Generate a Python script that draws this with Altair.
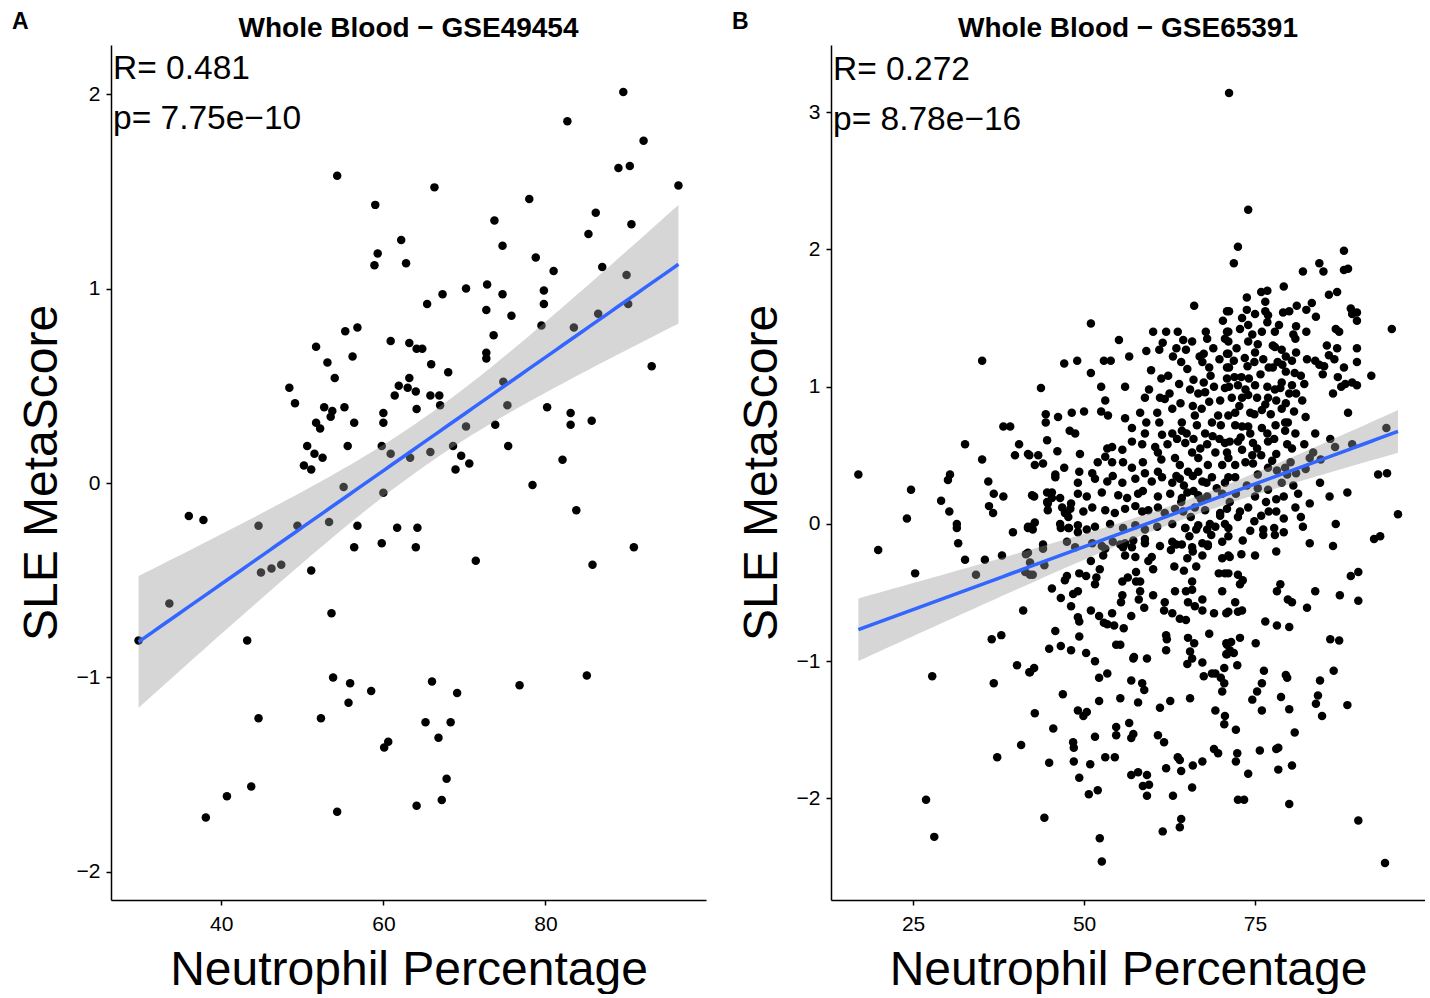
import altair as alt
import numpy as np
import pandas as pd

FONT = "Liberation Sans"

# ---------------- Panel A: GSE49454 ----------------
a_x = [89.6, 82.7, 92.1, 89.0, 90.4, 96.4, 54.3, 66.3, 78.0, 59.0,
       62.2, 59.3, 58.9, 62.8, 86.2, 73.7, 90.6, 85.3, 74.7, 78.8,
       81.0, 87.0, 90.0, 67.3, 65.4, 70.2, 72.8, 74.7, 72.7, 75.8,
       79.8, 79.8, 79.5, 83.5, 86.5, 90.2, 55.3, 56.8, 60.9, 63.2,
       51.7, 56.2, 53.1, 54.0, 63.2, 61.9, 63.0, 61.4, 48.4, 49.1,
       52.7, 53.7, 53.5, 55.2, 51.7, 52.2, 56.4, 60.0, 60.0, 50.6,
       51.5, 52.5, 55.6, 50.2, 51.1, 59.8, 60.9, 63.3, 55.1, 60.0,
       36.0, 37.8, 44.6, 49.4, 53.3, 56.8, 61.7, 56.4, 59.8, 64.0,
       44.9, 46.2, 47.4, 51.1, 33.6, 53.6, 64.1, 64.8, 73.6, 72.7,
       72.7, 65.9, 68.0, 64.0, 65.8, 66.9, 67.0, 64.1, 74.8, 75.3,
       93.1, 70.2, 73.8, 80.2, 83.1, 83.1, 85.7, 65.8, 68.6, 69.6,
       70.6, 68.9, 75.4, 82.1, 78.4, 83.8, 64.2, 71.4, 85.8, 90.9,
       29.8, 43.2, 53.8, 55.9, 58.5, 55.7, 44.6, 52.3, 60.6, 60.1,
       43.7, 40.7, 38.1, 54.3, 66.0, 69.1, 76.8, 85.1, 65.2, 68.3,
       66.8, 67.8, 67.2, 64.1]
a_y = [2.01, 1.86, 1.76, 1.62, 1.63, 1.53, 1.58, 1.52, 1.46, 1.43,
       1.25, 1.18, 1.12, 1.13, 1.39, 1.35, 1.33, 1.28, 1.22, 1.16,
       1.09, 1.11, 1.07, 0.97, 0.92, 1.00, 1.02, 0.97, 0.89, 0.86,
       0.99, 0.92, 0.81, 0.80, 0.87, 0.92, 0.78, 0.80, 0.73, 0.72,
       0.70, 0.65, 0.62, 0.54, 0.54, 0.50, 0.49, 0.45, 0.49, 0.41,
       0.39, 0.37, 0.34, 0.39, 0.31, 0.28, 0.31, 0.36, 0.31, 0.19,
       0.15, 0.13, 0.19, 0.09, 0.07, 0.19, 0.15, 0.13, -0.02, -0.05,
       -0.17, -0.19, -0.22, -0.22, -0.20, -0.22, -0.23, -0.33, -0.31, -0.33,
       -0.46, -0.44, -0.42, -0.45, -0.62, -0.67, 0.69, 0.69, 0.76, 0.67,
       0.64, 0.61, 0.57, 0.47, 0.45, 0.45, 0.40, 0.38, 0.52, 0.40,
       0.60, 0.29, 0.30, 0.39, 0.36, 0.30, 0.32, 0.16, 0.19, 0.14,
       0.10, 0.07, 0.19, 0.12, -0.01, -0.14, -0.23, -0.40, -0.42, -0.33,
       -0.81, -0.81, -1.00, -1.03, -1.07, -1.13, -1.21, -1.21, -1.33, -1.36,
       -1.56, -1.61, -1.72, -1.69, -1.02, -1.08, -1.04, -0.99, -1.23, -1.23,
       -1.31, -1.52, -1.63, -1.66]

# ---------------- Panel B: GSE65391 ----------------
# left-side points
b1_x = [35.1, 38.2, 39.2, 32.6, 40.5, 39.9, 41.8, 35.1, 17.0, 30.4,
        30.1, 24.7, 36.0, 36.8, 38.2, 29.1, 36.1, 36.7, 30.3, 24.1,
        31.4, 31.4, 39.6, 41.8, 19.9, 31.6, 32.6, 35.5, 38.0, 41.5,
        25.3, 34.2, 42.1, 41.1, 36.5, 37.9, 40.2, 42.0, 27.8, 36.8,
        40.8, 37.3, 26.9, 28.1]
b1_y = [1.19, 0.71, 0.71, 0.58, 0.58, 0.50, 0.51, 0.47, 0.36, 0.36,
        0.32, 0.25, 0.31, 0.22, 0.20, 0.17, 0.13, 0.08, 0.09, 0.04,
        0.00, -0.03, -0.06, -0.03, -0.19, -0.14, -0.26, -0.26, -0.23, -0.22,
        -0.36, -0.37, -0.37, -0.63, -0.84, -0.81, -1.03, -1.08, -1.11, -1.16,
        -1.61, -1.70, -2.01, -2.28]
# lower-right points
b2_x = [88.5, 95.9, 92.4, 93.3, 80.6, 83.0, 81.7, 86.8, 83.0, 86.4,
        78.1, 79.2, 75.9, 79.2, 78.1, 77.0, 73.2, 75.0, 78.1, 76.2,
        76.2, 77.8, 77.9, 79.2, 89.0, 90.1, 87.4, 90.1, 83.8, 78.7,
        78.2, 79.8, 80.4, 82.6, 76.5, 78.2, 80.0, 86.0, 87.3, 75.1,
        72.8, 71.5, 71.9, 72.4, 76.3, 79.5, 79.7, 86.5, 84.5, 76.0,
        75.3, 74.6, 78.8, 84.2, 83.9, 88.5, 76.0, 80.0, 84.8, 72.2,
        80.8, 75.7, 78.1, 78.4, 72.4, 72.2, 74.0, 78.4, 80.4, 72.5,
        73.4, 80.0, 90.1, 94.0]
b2_y = [0.23, 0.07, -0.11, -0.09, 0.28, 0.15, 0.05, 0.00, -0.14, -0.16,
        0.18, 0.20, 0.06, 0.04, 0.09, 0.09, -0.12, -0.23, -0.20, -0.04,
        -0.08, -0.03, -0.08, -0.06, -0.38, -0.35, -0.52, -0.56, -0.49, -0.44,
        -0.49, -0.55, -0.57, -0.61, -0.71, -0.74, -0.75, -0.84, -0.85, -0.87,
        -0.83, -0.86, -0.94, -1.03, -1.07, -1.10, -1.12, -1.07, -1.14, -1.16,
        -1.22, -1.28, -1.26, -1.25, -1.31, -1.32, -1.36, -1.35, -1.40, -1.50,
        -1.52, -1.65, -1.64, -1.63, -1.67, -1.73, -1.82, -1.79, -1.76, -2.01,
        -2.01, -2.04, -2.16, -2.47]
# lower-middle points
b3_x = [44.9, 45.8, 46.6, 48.1, 49.3, 50.3, 51.6, 42.1, 42.7, 46.9,
        52.2, 53.4, 52.2, 49.1, 49.9, 50.4, 42.8, 45.5, 48.4, 48.5,
        51.6, 44.9, 48.5, 50.9, 49.3, 53.1, 54.5, 50.7, 52.0, 44.2,
        52.3, 52.6, 54.7, 54.7, 56.6, 56.9, 57.2, 55.3, 57.9, 56.9,
        58.5, 58.8, 57.2, 57.3, 59.2, 61.1, 62.6, 65.5, 60.8, 61.7,
        56.9, 57.9, 59.2, 58.6, 59.5, 59.2, 62.0, 63.7, 64.0, 64.2,
        65.9, 67.3, 65.8, 63.0, 64.2, 64.0, 61.5, 69.0, 69.6, 69.2,
        70.6, 70.5, 65.2, 66.1, 65.5, 65.8, 65.1, 67.3, 68.3, 67.5,
        68.7, 69.2, 70.5, 70.0, 70.5, 70.2, 70.8, 70.8, 62.0, 62.1,
        62.0, 54.7, 55.3, 55.8, 56.9, 58.8, 54.4, 53.4, 54.1, 52.2,
        51.0, 49.1, 49.3, 52.9, 48.1, 46.6, 45.3, 47.2, 47.5, 48.4,
        49.1, 51.6, 51.8, 55.6, 56.4, 57.6, 58.2, 58.2, 58.0, 60.1,
        55.6, 55.4, 61.8, 61.7, 62.9, 64.0, 64.9, 63.3, 64.9, 65.8,
        65.8, 65.2, 66.2, 67.3, 67.3, 69.0, 70.2, 70.8, 44.0, 44.2,
        42.5, 49.3, 50.3, 51.0, 52.3, 52.8, 53.1, 56.0, 57.5, 57.6,
        59.4, 59.9, 60.1, 63.2, 64.6, 65.1, 66.4, 67.3, 62.7, 63.5,
        65.4, 56.0, 57.2, 55.7, 58.9, 64.8, 66.4, 68.1, 69.7, 70.6,
        70.2, 42.3, 42.8, 42.7, 44.6, 44.7, 45.3, 46.5, 48.1, 47.2,
        47.7, 46.6, 47.8, 49.1, 41.8, 42.1, 41.4]
b3_y = [-0.91, -0.78, -0.89, -0.92, -0.82, -0.94, -1.00, -1.08, -1.05, -1.24,
        -1.12, -1.09, -1.29, -1.36, -1.40, -1.37, -1.38, -1.49, -1.59, -1.63,
        -1.55, -1.74, -1.73, -1.75, -1.85, -1.70, -1.70, -1.97, -1.94, -2.14,
        -2.29, -2.46, -1.48, -1.54, -1.45, -1.56, -1.53, -1.27, -1.30, -1.14,
        -1.16, -1.21, -0.98, -0.97, -0.98, -1.34, -1.29, -1.27, -1.54, -1.59,
        -1.83, -1.81, -1.83, -1.91, -1.90, -1.98, -1.78, -1.70, -1.72, -1.80,
        -1.76, -1.73, -1.92, -1.98, -2.15, -2.21, -2.24, -1.64, -1.67, -1.36,
        -1.40, -1.46, -0.83, -0.87, -0.93, -0.98, -1.02, -1.01, -0.80, -1.11,
        -1.09, -1.09, -1.05, -1.12, -1.16, -1.22, -0.87, -0.95, -0.81, -0.84,
        -0.92, -0.88, -0.88, -0.76, -0.67, -0.61, -0.74, -0.73, -0.65, -0.67,
        -0.63, -0.68, -0.71, -0.72, -0.60, -0.54, -0.47, -0.41, -0.38, -0.51,
        -0.49, -0.44, -0.39, -0.42, -0.39, -0.42, -0.42, -0.49, -0.55, -0.52,
        -0.52, -0.57, -0.57, -0.63, -0.65, -0.69, -0.70, -0.49, -0.49, -0.48,
        -0.42, -0.57, -0.60, -0.63, -0.55, -0.65, -0.49, -0.65, -0.18, -0.30,
        -0.37, -0.36, -0.38, -0.27, -0.33, -0.23, -0.18, -0.23, -0.24, -0.35,
        -0.27, -0.24, -0.33, -0.31, -0.34, -0.25, -0.31, -0.23, -0.19, -0.15,
        -0.09, -0.14, -0.12, -0.17, -0.11, -0.03, -0.04, -0.15, -0.36, -0.36,
        -0.25, -0.02, 0.01, 0.20, 0.16, 0.15, 0.23, 0.19, 0.15, 0.08,
        0.05, -0.03, -0.03, -0.06, -0.21, -0.28, -0.35]
# dense core rows
b4_x = [45.8, 49.1, 51.6, 53.4, 54.2, 55.6, 57.5, 59.9, 61.4, 62.9, 64.0, 65.9, 67.3, 68.7, 70.6,
        42.4, 44.6, 45.3, 49.1, 50.4, 52.6, 55.0, 56.3, 57.9, 58.6, 60.8, 62.6, 64.3, 65.1, 66.7, 68.0, 70.2,
        44.7, 46.8, 47.5, 48.0, 49.9, 51.2, 53.1, 54.5, 56.0, 57.5, 58.5, 59.4, 60.8, 61.8, 63.3, 64.5, 66.2, 67.7, 69.9, 70.9,
        41.8, 42.5, 46.5, 47.7, 49.1, 50.4, 51.6, 53.8, 55.7, 57.5, 58.9, 60.7, 62.9, 64.8, 66.7, 68.0, 69.2, 70.6,
        44.0, 47.5, 48.7, 51.2, 52.6, 54.2, 55.3, 57.0, 58.9, 61.1, 62.9, 64.3, 65.8, 67.3, 68.1, 70.2]
b4_y = [0.34, 0.30, 0.33, 0.31, 0.35, 0.30, 0.33, 0.31, 0.34, 0.30, 0.33, 0.35, 0.31, 0.34, 0.30,
        0.21, 0.23, 0.19, 0.22, 0.20, 0.23, 0.21, 0.19, 0.22, 0.24, 0.20, 0.22, 0.19, 0.23, 0.21, 0.20, 0.22,
        0.10, 0.12, 0.08, 0.11, 0.09, 0.12, 0.10, 0.08, 0.11, 0.13, 0.09, 0.10, 0.12, 0.08, 0.11, 0.09, 0.12, 0.10, 0.08, 0.11,
        -0.02, -0.04, 0.00, -0.03, -0.01, -0.04, -0.02, 0.00, -0.03, -0.01, -0.04, -0.02, 0.00, -0.03, -0.01, -0.04, -0.02, 0.00,
        -0.15, -0.13, -0.17, -0.14, -0.16, -0.13, -0.15, -0.17, -0.14, -0.16, -0.13, -0.15, -0.17, -0.14, -0.16, -0.13]
# upper-middle points
b5_x = [71.2, 66.1, 51.0, 70.9, 70.3, 55.1, 60.1, 62.0, 63.7, 64.5,
        67.8, 68.0, 70.9, 70.6, 47.1, 49.0, 52.9, 53.9, 56.6, 51.0,
        59.1, 61.0, 63.5, 64.9, 59.8, 61.3, 65.1, 67.5, 67.3, 68.3,
        70.9, 70.9, 43.7, 52.5, 56.0, 53.1, 59.5, 58.9, 61.1, 61.8,
        65.5, 67.5, 69.0, 66.7, 67.7, 70.9, 70.6, 44.4, 44.4, 46.2,
        48.2, 50.0, 52.5, 53.5, 44.6, 47.9, 48.7, 56.0, 57.0, 58.2,
        60.7, 61.0, 59.1, 58.9, 62.9, 64.3, 64.3, 66.2, 66.5, 67.7,
        68.7, 69.6, 46.1, 42.0, 43.3, 44.0, 42.8, 47.1, 45.8, 49.4,
        49.3, 51.2, 52.0, 53.4, 54.1, 53.1, 54.1, 55.6, 57.0, 55.7,
        57.0, 58.5, 58.6, 60.4, 60.8, 61.3, 58.9, 60.8, 61.4, 62.9,
        63.3, 64.0, 64.8, 65.8, 66.7, 65.2, 66.7, 68.0, 69.2, 68.1,
        70.2, 70.6, 70.9]
b5_y = [3.14, 1.59, 1.46, 1.55, 1.48, 1.34, 1.40, 1.40, 1.40, 1.34,
        1.40, 1.35, 1.40, 1.35, 1.17, 1.19, 1.19, 1.19, 1.22, 1.10,
        1.26, 1.27, 1.28, 1.27, 1.12, 1.06, 1.13, 1.24, 1.18, 1.14,
        1.24, 1.14, 0.99, 1.00, 1.00, 0.90, 0.98, 0.92, 0.92, 0.91,
        0.98, 1.03, 1.00, 0.95, 0.96, 1.06, 0.99, 0.80, 0.74, 0.78,
        0.81, 0.82, 0.82, 0.79, 0.61, 0.68, 0.66, 0.77, 0.70, 0.81,
        0.81, 0.74, 0.74, 0.66, 0.84, 0.74, 0.68, 0.79, 0.72, 0.66,
        0.74, 0.79, 0.53, 0.50, 0.50, 0.44, 0.43, 0.41, 0.36, 0.51,
        0.38, 0.37, 0.45, 0.55, 0.56, 0.49, 0.45, 0.54, 0.60, 0.45,
        0.41, 0.58, 0.45, 0.56, 0.52, 0.47, 0.37, 0.38, 0.65, 0.66,
        0.48, 0.43, 0.59, 0.52, 0.48, 0.38, 0.38, 0.58, 0.52, 0.43,
        0.43, 0.59, 0.52]
# upper-right points
b6_x = [74.0, 72.5, 71.9, 88.0, 84.4, 85.0, 88.0, 88.6, 82.0, 79.2,
        75.9, 76.8, 76.5, 73.8, 71.2, 73.8, 75.0, 73.1, 74.0, 76.5,
        76.9, 79.1, 80.0, 81.1, 82.5, 83.3, 83.9, 85.8, 87.0, 89.0,
        89.9, 89.9, 89.2, 81.0, 80.6, 77.9, 76.0, 71.1, 71.1, 74.0,
        75.4, 77.9, 78.9, 79.5, 80.4, 81.0, 75.0, 71.1, 71.9, 73.5,
        74.9, 86.8, 87.3, 95.0, 85.5, 87.0, 89.9, 85.8, 86.6, 83.8,
        84.4, 85.1, 84.9, 88.0, 89.9, 92.0, 87.1, 87.6, 88.2, 89.2,
        89.9, 86.4, 88.6, 71.2, 73.0, 74.1, 71.2, 72.5, 75.0, 76.8,
        77.0, 77.6, 79.5, 80.8, 81.7, 82.2, 81.0, 78.9, 78.7, 80.4,
        80.0, 71.6, 73.1, 74.0, 75.3, 76.9, 78.1, 76.5, 76.0, 79.5,
        78.9, 71.1, 72.1, 74.3, 79.4, 79.8, 79.4, 72.1, 73.1, 74.0,
        76.0, 76.8, 76.9, 71.3, 72.5, 73.1, 74.7, 75.3, 79.7, 80.4,
        78.1, 83.8, 86.0, 86.7, 89.2, 94.2, 83.5, 83.0, 84.6, 71.1,
        72.1, 74.6, 74.7, 76.9, 78.2, 79.4, 79.7, 81.0, 75.4, 93.0,
        94.3, 71.1, 72.1, 75.4, 75.0, 74.0, 72.8, 72.5, 71.3, 71.1,
        71.1, 71.1, 71.3, 71.1, 72.5, 73.2, 72.8, 72.1, 71.1, 72.5,
        73.1, 70.9, 71.3, 70.9]
b6_y = [2.29, 2.02, 1.90, 1.99, 1.90, 1.84, 1.85, 1.86, 1.84, 1.73,
        1.69, 1.70, 1.62, 1.65, 1.55, 1.56, 1.53, 1.50, 1.45, 1.55,
        1.52, 1.54, 1.55, 1.59, 1.56, 1.61, 1.51, 1.67, 1.69, 1.57,
        1.54, 1.48, 1.53, 1.44, 1.38, 1.40, 1.40, 1.40, 1.33, 1.33,
        1.31, 1.29, 1.27, 1.22, 1.19, 1.25, 1.25, 1.24, 1.19, 1.21,
        1.18, 1.42, 1.40, 1.42, 1.30, 1.28, 1.28, 1.23, 1.20, 1.19,
        1.16, 1.15, 1.09, 1.14, 1.18, 1.08, 1.07, 1.00, 1.02, 1.03,
        1.01, 0.95, 0.81, 1.14, 1.07, 1.06, 1.00, 1.01, 1.01, 1.00,
        1.14, 1.14, 1.11, 1.10, 1.08, 1.02, 0.95, 1.03, 0.99, 1.01,
        0.95, 0.92, 0.92, 0.94, 0.92, 0.92, 0.90, 0.87, 0.83, 0.88,
        0.84, 0.79, 0.81, 0.81, 0.74, 0.74, 0.68, 0.72, 0.71, 0.71,
        0.70, 0.66, 0.60, 0.60, 0.60, 0.54, 0.59, 0.55, 0.58, 0.55,
        0.51, 0.66, 0.62, 0.56, 0.58, 0.70, 0.52, 0.48, 0.47, 0.48,
        0.43, 0.50, 0.44, 0.41, 0.39, 0.41, 0.36, 0.37, 0.36, 0.36,
        0.37, 0.34, 0.34, 0.26, 0.20, 0.12, 0.09, 0.05, 0.16, -0.03,
        -0.09, -0.23, -0.24, -0.36, -0.37, -0.41, -0.44, -0.57, -0.64, -0.64,
        -0.63, -0.88, -0.92, -0.95]
# overlapping dots inside the densest part of the cloud
b7_x = [61.5, 63.0, 64.2, 65.8, 66.9, 68.9, 69.8, 62.3, 63.9, 66.0,
        68.5, 69.9, 62.5, 64.1, 65.9, 67.2, 68.3, 70.0, 62.2, 63.6,
        65.0, 66.0, 67.0, 68.8, 69.8, 63.5, 64.6, 66.0, 67.9, 69.4,
        72.8, 74.6, 76.8, 78.5, 80.9, 82.5, 72.3, 73.9, 76.2, 77.6,
        78.3, 82.6, 72.0, 73.6, 75.8, 77.9, 79.0, 81.9, 72.7, 74.9,
        77.3, 78.0, 80.7, 82.4, 72.9, 74.3, 75.9, 77.8, 80.9, 82.2,
        73.6, 77.5, 80.2, 82.4,
        64.2, 65.6, 67.1, 68.6, 69.9, 72.2, 73.8, 74.3, 76.9, 78.9,
        80.9, 82.0, 73.0, 74.9, 76.6, 81.3, 65.9, 68.4, 84.5, 85.9]
b7_y = [1.32, 1.22, 1.18, 1.33, 1.22, 1.28, 1.20, 1.08, 1.02, 1.05,
        1.08, 0.90, 0.95, 0.88, 0.86, 0.84, 0.89, 0.72, 0.58, 0.62,
        0.66, 0.62, 0.55, 0.64, 0.62, 0.35, 0.28, 0.24, 0.30, 0.26,
        1.42, 1.38, 1.47, 1.45, 1.35, 1.40, 1.28, 1.15, 1.20, 1.30,
        1.18, 1.20, 1.07, 0.98, 1.09, 0.98, 1.16, 0.90, 0.86, 0.80,
        0.80, 0.72, 0.82, 0.78, 0.63, 0.66, 0.50, 0.62, 0.66, 0.58,
        0.45, 0.46, 0.45, 0.40,
        0.16, 0.05, 0.18, -0.08, 0.06, 0.22, 0.28, -0.05, 0.25, 0.30,
        0.12, -0.02, -0.22, 0.02, 0.16, 0.22, -0.20, 0.00, 0.30, 0.20]

b_x = b1_x + b2_x + b3_x + b4_x + b5_x + b6_x + b7_x
b_y = b1_y + b2_y + b3_y + b4_y + b5_y + b6_y + b7_y

# text labels
titles = ["Whole Blood \u2212 GSE49454", "Whole Blood \u2212 GSE65391"]
letters = ["A", "B"]
r_labels = ["R= 0.481", "R= 0.272"]
p_labels = ["p= 7.75e\u221210", "p= 8.78e\u221216"]


def fit_frame(xs, ys, tq):
    x = np.asarray(xs, dtype=float)
    y = np.asarray(ys, dtype=float)
    n = len(x)
    xm, ym = x.mean(), y.mean()
    sxx = ((x - xm) ** 2).sum()
    b = ((x - xm) * (y - ym)).sum() / sxx
    a = ym - b * xm
    s = np.sqrt(((y - (a + b * x)) ** 2).sum() / (n - 2))
    g = np.linspace(x.min(), x.max(), 80)
    f = a + b * g
    se = s * np.sqrt(1.0 / n + (g - xm) ** 2 / sxx)
    return pd.DataFrame({"x": g, "fit": f, "lo": f - tq * se, "hi": f + tq * se})


def panel(xs, ys, tq, xdom, ydom, xticks, yticks, title, letter, ann_x, ann_y, labels, w, h):
    pts = pd.DataFrame({"x": xs, "y": ys})
    fit = fit_frame(xs, ys, tq)
    ann = pd.DataFrame({"x": [ann_x, ann_x], "y": ann_y, "label": labels})
    sx = alt.Scale(domain=xdom, nice=False, zero=False)
    sy = alt.Scale(domain=ydom, nice=False, zero=False)
    ax = alt.Axis(values=xticks, title="Neutrophil Percentage", grid=False)
    ay = alt.Axis(values=yticks, title="SLE MetaScore", grid=False)

    p = alt.Chart(pts).mark_circle(size=72, color="black", opacity=1).encode(
        x=alt.X("x:Q", scale=sx, axis=ax),
        y=alt.Y("y:Q", scale=sy, axis=ay),
    )
    band = alt.Chart(fit).mark_area(color="#999999", opacity=0.4).encode(
        x=alt.X("x:Q", axis=ax), y=alt.Y("lo:Q", axis=ay), y2="hi:Q"
    )
    line = alt.Chart(fit).mark_line(color="#3366FF", strokeWidth=3.5).encode(
        x=alt.X("x:Q", axis=ax), y=alt.Y("fit:Q", axis=ay)
    )
    txt = alt.Chart(ann).mark_text(
        align="left", baseline="middle", fontSize=33.5, font=FONT, color="black"
    ).encode(x=alt.X("x:Q", axis=ax), y=alt.Y("y:Q", axis=ay), text="label:N")
    lab = pd.DataFrame({"t": [letter]})
    let = alt.Chart(lab).mark_text(
        align="left", baseline="alphabetic", fontSize=23, fontWeight="bold",
        font=FONT, color="black"
    ).encode(x=alt.value(-99), y=alt.value(-16), text="t:N")
    ttl = alt.Chart(pd.DataFrame({"t": [title]})).mark_text(
        align="center", baseline="alphabetic", fontSize=28, fontWeight="bold",
        font=FONT, color="black"
    ).encode(x=alt.value(w / 2), y=alt.value(-8), text="t:N")

    return alt.layer(p, band, line, txt, let, ttl).properties(width=w, height=h)


pa = panel(a_x, a_y, 1.977, [26.4, 99.8], [-2.144, 2.252], [40, 60, 80],
           [-2, -1, 0, 1, 2], titles[0], letters[0], 26.65, [2.129, 1.872],
           [r_labels[0], p_labels[0]], 595, 855)
pb = panel(b_x, b_y, 1.964, [13.0, 99.85], [-2.74, 3.49], [25, 50, 75],
           [-2, -1, 0, 1, 2, 3], titles[1], letters[1], 13.3, [3.311, 2.947],
           [r_labels[1], p_labels[1]], 594, 855)

chart = (
    alt.hconcat(pa, pb, spacing=26)
    .properties(padding={"left": 12, "top": 11, "right": 0, "bottom": 0})
    .configure(font=FONT)
    .configure_view(stroke=None)
    .configure_axis(
        domainColor="black", domainWidth=1.5, tickColor="black", tickWidth=1.5,
        tickSize=5, labelFontSize=21, labelColor="black", labelFont=FONT,
        titleFont=FONT, titleFontSize=48, titleFontWeight="normal",
        titleColor="black", grid=False,
    )
    .configure_axisX(labelPadding=8, titlePadding=12)
    .configure_axisY(labelPadding=6, titlePadding=10)
)

chart.save("out.html", embed_options={"renderer": "svg", "actions": False})
